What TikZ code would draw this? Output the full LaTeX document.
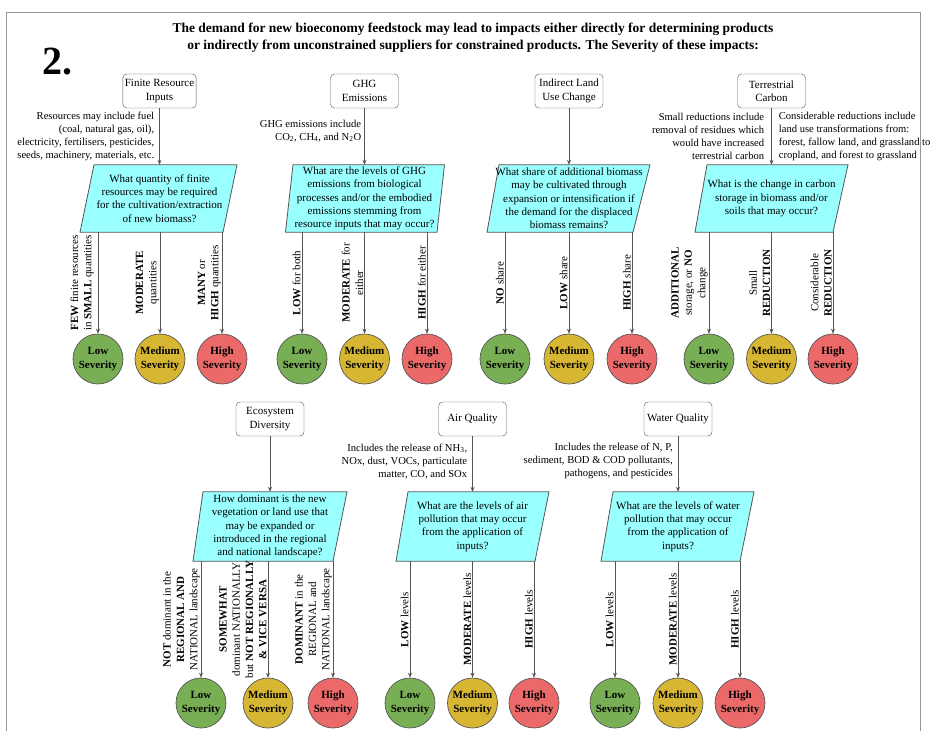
\documentclass[tikz,border=0pt]{standalone}
\usepackage{fontspec}
\setmainfont{Liberation Serif}
\usetikzlibrary{arrows.meta,calc}
\pgfdeclarelayer{background}
\pgfsetlayers{background,main}

\definecolor{lowc}{RGB}{120,174,84}
\definecolor{medc}{RGB}{214,182,50}
\definecolor{highc}{RGB}{235,105,105}
\definecolor{qfill}{RGB}{153,255,255}
\definecolor{edge}{RGB}{85,85,85}
\definecolor{framec}{RGB}{150,150,150}

\newcommand{\bodyfont}{\fontsize{11}{13.3}\selectfont}
\newcommand{\notefont}{\fontsize{10.6}{13}\selectfont}

\tikzset{
  catbox/.style={draw=edge, rounded corners=4pt, fill=white, align=center,
    minimum width=68pt, minimum height=34pt, inner sep=2pt, font=\bodyfont},
  qtext/.style={align=center, inner sep=0pt, minimum width=140pt, font=\bodyfont},
  qshape/.style={draw=edge, fill=qfill, line width=0.8pt},
  sev/.style={circle, draw=edge, line width=0.7pt, minimum size=50pt, inner sep=0pt,
    align=center, font=\bodyfont\bfseries},
  low/.style={sev, fill=lowc},
  med/.style={sev, fill=medc},
  high/.style={sev, fill=highc},
  arr/.style={draw=edge, line width=0.7pt, -{Stealth[length=5pt, width=4pt]}},
  note/.style={midway, left, align=right, inner sep=5pt, font=\notefont},
  noter/.style={midway, right, align=left, inner sep=7pt, font=\notefont},
  lbl/.style={midway, rotate=90, anchor=south, align=center, inner sep=1pt, font=\bodyfont},
}

% question parallelogram: name, x, y, height, bottom-left, bottom-right, top-left, top-right offsets, text
\newcommand{\questionbox}[9]{%
  \node[qtext, minimum height=#4pt] (#1) at (#2,#3) {#9};
  \begin{pgfonlayer}{background}
    \filldraw[qshape] ([xshift=#5pt]#1.south) -- ([xshift=#6pt]#1.south)
      -- ([xshift=#8pt]#1.north) -- ([xshift=#7pt]#1.north) -- cycle;
  \end{pgfonlayer}}

\begin{document}
\begin{tikzpicture}[x=1pt, y=-1pt]
\useasboundingbox (0,0) rectangle (933,731);
\begin{pgfonlayer}{background}
  \fill[white] (0,0) rectangle (933,731);
\end{pgfonlayer}
\draw[framec, line width=1pt] (6,731) -- (6,12) -- (920,12) -- (920,731);

% heading
\node[font=\bfseries\fontsize{13.5}{17}\selectfont, align=center] (title) at (473,38)
  {The demand for new bioeconomy feedstock may lead to impacts either directly for determining products\\
   or indirectly from unconstrained suppliers for constrained products. The Severity of these impacts:};
\node[font=\bfseries\fontsize{40}{40}\selectfont] (num) at (57,62) {2.};

% ---------- top row ----------
\node[catbox] (c1) at (159.5,91) {Finite Resource\\Inputs};
\node[catbox] (c2) at (364.5,91) {GHG\\Emissions};
\node[catbox] (c3) at (569,91) {Indirect Land\\Use Change};
\node[catbox] (c4) at (771.5,91) {Terrestrial\\Carbon};

\questionbox{q1}{159.5}{198.5}{67}{-79.5}{63.5}{-65.5}{77.5}{What quantity of finite\\resources may be required\\for the cultivation/extraction\\of new biomass?}
\questionbox{q2}{364.5}{198.5}{67}{-79}{72.5}{-71.5}{80}{What are the levels of GHG\\emissions from biological\\processes and/or the embodied\\emissions stemming from\\resource inputs that may occur?}
\questionbox{q3}{569}{198.5}{67}{-82}{64}{-70}{81}{What share of additional biomass\\may be cultivated through\\expansion or intensification if\\the demand for the displaced\\biomass remains?}
\questionbox{q4}{771.5}{198.5}{67}{-76.5}{61.5}{-64.5}{76.5}{What is the change in carbon\\storage in biomass and/or\\soils that may occur?}

\draw[arr] (c1.south) -- node[note]{Resources may include fuel\\(coal, natural gas, oil),\\electricity, fertilisers, pesticides,\\seeds, machinery, materials, etc.} (c1.south |- q1.north);
\draw[arr] (c2.south) -- node[note, pos=0.4, inner sep=3pt]{GHG emissions include\\CO\textsubscript{2}, CH\textsubscript{4}, and N\textsubscript{2}O} (c2.south |- q2.north);
\draw[arr] (c3.south) -- (c3.south |- q3.north);
\draw[arr] (c4.south) -- node[note, inner sep=7pt]{Small reductions include\\removal of residues which\\would have increased\\terrestrial carbon}
  node[noter]{Considerable reductions include\\land use transformations from:\\forest, fallow land, and grassland to\\cropland, and forest to grassland} (c4.south |- q4.north);

\node[low]  (s11) at (98,359)  {Low\\Severity};
\node[med]  (s12) at (160,359) {Medium\\Severity};
\node[high] (s13) at (222,359) {High\\Severity};
\node[low]  (s21) at (302,359) {Low\\Severity};
\node[med]  (s22) at (364.5,359) {Medium\\Severity};
\node[high] (s23) at (427,359) {High\\Severity};
\node[low]  (s31) at (505,359) {Low\\Severity};
\node[med]  (s32) at (569,359) {Medium\\Severity};
\node[high] (s33) at (632,359) {High\\Severity};
\node[low]  (s41) at (709,359) {Low\\Severity};
\node[med]  (s42) at (771.5,359) {Medium\\Severity};
\node[high] (s43) at (833,359) {High\\Severity};

\draw[arr] (q1.south -| s11.north) -- node[lbl, inner sep=4pt]{\textbf{FEW} finite resources\\in \textbf{SMALL} quantities} (s11.north);
\draw[arr] (q1.south -| s12.north) -- node[lbl]{\textbf{MODERATE}\\quantities} (s12.north);
\draw[arr] (q1.south -| s13.north) -- node[lbl]{\textbf{MANY} or\\\textbf{HIGH} quantities} (s13.north);
\draw[arr] (q2.south -| s21.north) -- node[lbl]{\textbf{LOW} for both} (s21.north);
\draw[arr] (q2.south -| s22.north) -- node[lbl]{\textbf{MODERATE} for\\either} (s22.north);
\draw[arr] (q2.south -| s23.north) -- node[lbl]{\textbf{HIGH} for either} (s23.north);
\draw[arr] (q3.south -| s31.north) -- node[lbl]{\textbf{NO} share} (s31.north);
\draw[arr] (q3.south -| s32.north) -- node[lbl]{\textbf{LOW} share} (s32.north);
\draw[arr] (q3.south -| s33.north) -- node[lbl]{\textbf{HIGH} share} (s33.north);
\draw[arr] (q4.south -| s41.north) -- node[lbl]{\textbf{ADDITIONAL}\\storage, or \textbf{NO}\\change} (s41.north);
\draw[arr] (q4.south -| s42.north) -- node[lbl]{Small\\\textbf{REDUCTION}} (s42.north);
\draw[arr] (q4.south -| s43.north) -- node[lbl]{Considerable\\\textbf{REDUCTION}} (s43.north);

% ---------- bottom row ----------
\node[catbox] (c5) at (270,419) {Ecosystem\\Diversity};
\node[catbox] (c6) at (472.5,419) {Air Quality};
\node[catbox] (c7) at (678,419) {Water Quality};

\questionbox{q5}{270}{526.5}{69}{-77}{63}{-67}{77}{How dominant is the new\\vegetation or land use that\\may be expanded or\\introduced in the regional\\and national landscape?}
\questionbox{q6}{472.5}{526.5}{69}{-76.5}{62.5}{-64.5}{76.5}{What are the levels of air\\pollution that may occur\\from the application of\\inputs?}
\questionbox{q7}{678}{526.5}{69}{-77}{62}{-65}{76}{What are the levels of water\\pollution that may occur\\from the application of\\inputs?}

\draw[arr] (c5.south) -- (c5.south |- q5.north);
\draw[arr] (c6.south) -- node[note, pos=0.45]{Includes the release of NH\textsubscript{3},\\NOx, dust, VOCs, particulate\\matter, CO, and SOx} (c6.south |- q6.north);
\draw[arr] (c7.south) -- node[note, pos=0.45]{Includes the release of N, P,\\sediment, BOD \& COD pollutants,\\pathogens, and pesticides} (c7.south |- q7.north);

\node[low]  (s51) at (201,703) {Low\\Severity};
\node[med]  (s52) at (268,703) {Medium\\Severity};
\node[high] (s53) at (333,703) {High\\Severity};
\node[low]  (s61) at (410,703) {Low\\Severity};
\node[med]  (s62) at (472.5,703) {Medium\\Severity};
\node[high] (s63) at (534,703) {High\\Severity};
\node[low]  (s71) at (615,703) {Low\\Severity};
\node[med]  (s72) at (678,703) {Medium\\Severity};
\node[high] (s73) at (740,703) {High\\Severity};

\draw[arr] (q5.south -| s51.north) -- node[lbl]{\textbf{NOT} dominant in the\\\textbf{REGIONAL AND}\\NATIONAL landscape} (s51.north);
\draw[arr] (q5.south -| s52.north) -- node[lbl]{\textbf{SOMEWHAT}\\dominant NATIONALLY\\but \textbf{NOT REGIONALLY}\\\textbf{\& VICE VERSA}} (s52.north);
\draw[arr] (q5.south -| s53.north) -- node[lbl]{\textbf{DOMINANT} in the\\REGIONAL and\\NATIONAL landscape} (s53.north);
\draw[arr] (q6.south -| s61.north) -- node[lbl]{\textbf{LOW} levels} (s61.north);
\draw[arr] (q6.south -| s62.north) -- node[lbl]{\textbf{MODERATE} levels} (s62.north);
\draw[arr] (q6.south -| s63.north) -- node[lbl]{\textbf{HIGH} levels} (s63.north);
\draw[arr] (q7.south -| s71.north) -- node[lbl]{\textbf{LOW} levels} (s71.north);
\draw[arr] (q7.south -| s72.north) -- node[lbl]{\textbf{MODERATE} levels} (s72.north);
\draw[arr] (q7.south -| s73.north) -- node[lbl]{\textbf{HIGH} levels} (s73.north);
\end{tikzpicture}
\end{document}
